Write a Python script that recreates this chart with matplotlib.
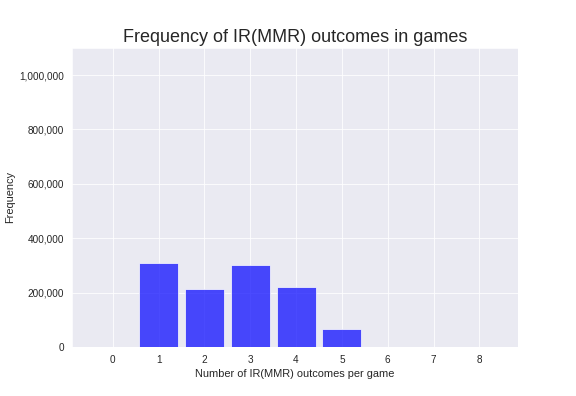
import matplotlib
matplotlib.use("Agg")
import matplotlib.pyplot as plt
import seaborn as sns
from matplotlib.ticker import FuncFormatter

outcomes = [1, 2, 3, 4, 5]
frequency = [307500, 212000, 300000, 219000, 65000]
xticks = list(range(0, 9))

sns.set_style("darkgrid")
plt.rcParams['font.family'] = ['Liberation Sans', 'DejaVu Sans']

fig = plt.figure(figsize=(8, 5.5), dpi=72)
ax = fig.add_axes([0.125, 0.124, 0.774, 0.755])
ax.bar(outcomes, frequency, width=0.85, color='blue', alpha=0.7)
ax.set_xticks(xticks)
ax.set_xlim(-0.89, 8.84)
ax.set_ylim(0, 1100000)
ax.set_yticks([0, 200000, 400000, 600000, 800000, 1000000])
ax.yaxis.set_major_formatter(FuncFormatter(lambda v, p: f"{int(v):,}"))
ax.tick_params(labelsize=10, colors='.15', length=0, pad=8)
ax.set_xlabel("Number of IR(MMR) outcomes per game", fontsize=11, color='.15', labelpad=4)
ax.set_ylabel("Frequency", fontsize=11, color='.15')
ax.set_title("Frequency of IR(MMR) outcomes in games", fontsize=18, color='.15')
fig.savefig("out.png", dpi=72)
